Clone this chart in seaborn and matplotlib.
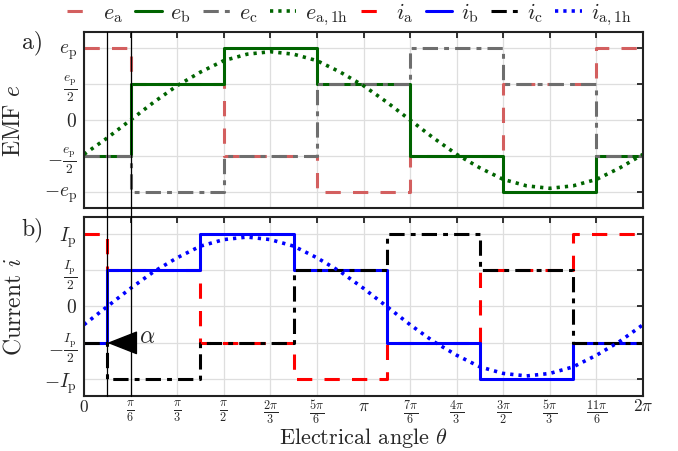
import numpy as np
import matplotlib
matplotlib.use("Agg")
import matplotlib.pyplot as plt
from matplotlib.lines import Line2D
from matplotlib.transforms import blended_transform_factory
import seaborn as sns

pi = np.pi

# switching instants (rad) and normalised levels
theta_e = [0, pi / 6, pi / 2, 5 * pi / 6, 7 * pi / 6, 3 * pi / 2, 11 * pi / 6, 2 * pi]
e_a = [1, 0.5, -0.5, -1, -0.5, 0.5, 1, 1]
e_b = [-0.5, 0.5, 1, 0.5, -0.5, -1, -0.5, -0.5]
e_c = [-0.5, -1, -0.5, 0.5, 1, 0.5, -0.5, -0.5]

alpha = pi / 12
theta_i = [0, pi / 12, 5 * pi / 12, 3 * pi / 4, 13 * pi / 12, 17 * pi / 12, 7 * pi / 4, 2 * pi]
i_a = [1, 0.5, -0.5, -1, -0.5, 0.5, 1, 1]
i_b = [-0.5, 0.5, 1, 0.5, -0.5, -1, -0.5, -0.5]
i_c = [-0.5, -1, -0.5, 0.5, 1, 0.5, -0.5, -0.5]

# first harmonics, read every pi/12
theta_h = [k * pi / 12 for k in range(25)]
e_1h = [-0.48, -0.25, 0.0, 0.25, 0.48, 0.67, 0.83, 0.92, 0.955, 0.92, 0.83, 0.67, 0.48,
        0.25, 0.0, -0.25, -0.48, -0.67, -0.83, -0.92, -0.955, -0.92, -0.83, -0.67, -0.48]
i_1h = [-0.25, 0.0, 0.25, 0.48, 0.67, 0.83, 0.92, 0.955, 0.92, 0.83, 0.67, 0.48, 0.25,
        0.0, -0.25, -0.48, -0.67, -0.83, -0.92, -0.955, -0.92, -0.83, -0.67, -0.48, -0.25]

xticks = [k * pi / 6 for k in range(13)]
xticklabels = [r"$0$", r"$\frac{\pi}{6}$", r"$\frac{\pi}{3}$", r"$\frac{\pi}{2}$",
               r"$\frac{2\pi}{3}$", r"$\frac{5\pi}{6}$", r"$\pi$", r"$\frac{7\pi}{6}$",
               r"$\frac{4\pi}{3}$", r"$\frac{3\pi}{2}$", r"$\frac{5\pi}{3}$",
               r"$\frac{11\pi}{6}$", r"$2\pi$"]
yticks = [-1, -0.5, 0, 0.5, 1]
e_labels = [r"$-e_\mathrm{p}$", r"$-\frac{e_\mathrm{p}}{2}$", r"$0$",
            r"$\frac{e_\mathrm{p}}{2}$", r"$e_\mathrm{p}$"]
i_labels = [r"$-I_\mathrm{p}$", r"$-\frac{I_\mathrm{p}}{2}$", r"$0$",
            r"$\frac{I_\mathrm{p}}{2}$", r"$I_\mathrm{p}$"]

sns.set_theme(style="whitegrid")
plt.rcParams["font.family"] = "serif"
plt.rcParams["font.serif"] = ["cmr10"]
plt.rcParams["mathtext.fontset"] = "cm"
plt.rcParams["axes.unicode_minus"] = False

fig = plt.figure(figsize=(6.78, 4.51), dpi=100)
ax1 = fig.add_axes([0.1239, 0.5388, 0.8245, 0.3902])
ax2 = fig.add_axes([0.1239, 0.122, 0.8245, 0.3968], sharex=ax1)

lw = 2.2
dash = (0, (5, 4))
dashdot = (0, (5, 2, 1.6, 2))
dot = (0, (0.9, 1.4))

def steps(ax, x, y, color, ls, label):
    sns.lineplot(x=x, y=y, ax=ax, color=color, lw=lw, linestyle=ls,
                 drawstyle="steps-post", label=label, legend=False)

steps(ax1, theta_e, e_a, "#d35f5f", dash, r"$e_\mathrm{a}$")
steps(ax1, theta_e, e_b, "#006400", "-", r"$e_\mathrm{b}$")
steps(ax1, theta_e, e_c, "#6e6e6e", dashdot, r"$e_\mathrm{c}$")
sns.lineplot(x=theta_h, y=e_1h, ax=ax1, color="#006400", lw=2.6, linestyle=dot,
             label=r"$e_\mathrm{a,1h}$", legend=False)

steps(ax2, theta_i, i_a, "#ff0000", dash, r"$i_\mathrm{a}$")
steps(ax2, theta_i, i_b, "#0000ff", "-", r"$i_\mathrm{b}$")
steps(ax2, theta_i, i_c, "#000000", dashdot, r"$i_\mathrm{c}$")
sns.lineplot(x=theta_h, y=i_1h, ax=ax2, color="#0000ff", lw=2.6, linestyle=dot,
             label=r"$i_\mathrm{a,1h}$", legend=False)

for ax, labs, name in [(ax1, e_labels, "EMF $e$"), (ax2, i_labels, "Current $i$")]:
    ax.set_xlim(0, 2 * pi)
    ax.set_ylim(-1.23, 1.23)
    ax.set_yticks(yticks)
    ax.set_yticklabels(labs)
    ax.set_xticks(xticks)
    ax.grid(True, color="#dedede", lw=0.9)
    ax.tick_params(direction="in", top=True, right=True, length=4, width=1.3,
                   color="#222222", labelsize=14, pad=5)
    for s in ax.spines.values():
        s.set_color("#222222")
        s.set_linewidth(1.5)
    ax.set_ylabel(name, fontsize=17)
    ax.yaxis.set_label_coords(-0.105, 0.5)
    ax.set_xlabel("")
    leg = ax.get_legend()
    if leg:
        leg.remove()

plt.setp(ax1.get_xticklabels(), visible=False)
ax2.set_xticklabels(xticklabels)
ax2.tick_params(axis="x", labelsize=12.5, pad=2)
ax2.set_xlabel(r"Electrical angle $\theta$", fontsize=16)
ax2.xaxis.set_label_coords(0.5, -0.165)

# vertical markers across both panels
tr = blended_transform_factory(ax2.transData, fig.transFigure)
for xv in [alpha, pi / 6]:
    fig.add_artist(Line2D([xv, xv], [0.122, 0.929], transform=tr, color="black", lw=0.9))

ax2.annotate("", xy=(alpha, -0.5), xytext=(pi / 6, -0.5),
             arrowprops=dict(arrowstyle="-|>,head_length=1.4,head_width=0.55",
                             color="black", lw=1, shrinkA=0, shrinkB=0,
                             mutation_scale=14))
ax2.text(0.62, -0.42, r"$\alpha$", fontsize=17, va="center", ha="left")

fig.text(0.032, 0.905, "a)", fontsize=17, va="center")
fig.text(0.032, 0.49, "b)", fontsize=17, va="center")

h1, l1 = ax1.get_legend_handles_labels()
h2, l2 = ax2.get_legend_handles_labels()
fig.legend(h1 + h2, l1 + l2, loc="center", bbox_to_anchor=(0.515, 0.968), ncol=8,
           frameon=False, fontsize=16, handlelength=1.2, handletextpad=0.4,
           columnspacing=0.55)

fig.savefig("out.png", dpi=100)
